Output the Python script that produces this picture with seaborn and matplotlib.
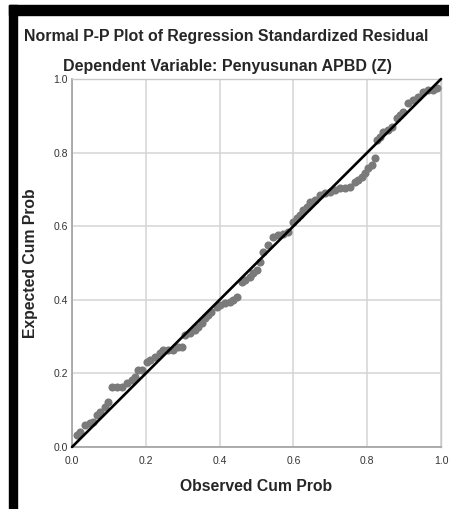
import numpy as np
import pandas as pd
import matplotlib
matplotlib.use("Agg")
import matplotlib.pyplot as plt
from matplotlib.patches import Rectangle
import seaborn as sns

# observed / expected cumulative probabilities
observed = [
    0.013, 0.022, 0.035, 0.049, 0.058, 0.067, 0.076, 0.089, 0.098, 0.107,
    0.121, 0.135, 0.148, 0.162, 0.171, 0.180, 0.189, 0.202, 0.211, 0.225,
    0.238, 0.247, 0.261, 0.275, 0.288, 0.297, 0.306, 0.320, 0.333, 0.342,
    0.352, 0.360, 0.369, 0.378, 0.392, 0.401, 0.415, 0.428, 0.437, 0.446,
    0.460, 0.469, 0.482, 0.491, 0.500, 0.509, 0.518, 0.532, 0.546, 0.559,
    0.573, 0.586, 0.600, 0.609, 0.618, 0.627, 0.636, 0.645, 0.659, 0.672,
    0.686, 0.699, 0.713, 0.726, 0.740, 0.753, 0.767, 0.776, 0.785, 0.794,
    0.803, 0.812, 0.821, 0.826, 0.835, 0.844, 0.857, 0.866, 0.880, 0.889,
    0.898, 0.911, 0.925, 0.938, 0.952, 0.966, 0.979, 0.988,
]
expected = [
    0.033, 0.042, 0.060, 0.065, 0.069, 0.087, 0.096, 0.110, 0.123, 0.164,
    0.164, 0.164, 0.173, 0.182, 0.191, 0.209, 0.209, 0.232, 0.236, 0.245,
    0.255, 0.264, 0.264, 0.264, 0.273, 0.273, 0.304, 0.309, 0.318, 0.327,
    0.336, 0.350, 0.359, 0.368, 0.381, 0.386, 0.390, 0.395, 0.400, 0.408,
    0.449, 0.454, 0.463, 0.472, 0.481, 0.504, 0.531, 0.550, 0.571, 0.576,
    0.580, 0.585, 0.612, 0.621, 0.630, 0.644, 0.653, 0.667, 0.671, 0.685,
    0.689, 0.694, 0.698, 0.703, 0.703, 0.707, 0.721, 0.726, 0.734, 0.744,
    0.757, 0.766, 0.785, 0.834, 0.843, 0.857, 0.861, 0.870, 0.893, 0.902,
    0.911, 0.934, 0.943, 0.952, 0.965, 0.970, 0.970, 0.975,
]
diag = [0.0, 1.0]
ticks = [0.0, 0.2, 0.4, 0.6, 0.8, 1.0]
tick_labels = ["0.0", "0.2", "0.4", "0.6", "0.8", "1.0"]

df = pd.DataFrame({"Observed Cum Prob": observed, "Expected Cum Prob": expected})

sns.set_style("whitegrid")
plt.rcParams["font.family"] = ["Liberation Sans", "DejaVu Sans"]

fig = plt.figure(figsize=(4.49, 5.09), dpi=100)
ax = fig.add_axes([0.1604, 0.1218, 0.8218, 0.723])

# black frame pieces at top and left of the screenshot
fig.patches.append(Rectangle((9 / 449, 1 - 15 / 509), 1.0, 10 / 509,
                             transform=fig.transFigure, color="black", zorder=0))
fig.patches.append(Rectangle((9 / 449, 0), 8 / 449, 1 - 5 / 509,
                             transform=fig.transFigure, color="black", zorder=0))

sns.scatterplot(data=df, x="Observed Cum Prob", y="Expected Cum Prob", ax=ax,
                color="#7a7a7a", s=34, linewidth=0, zorder=3, clip_on=False)
ax.plot(diag, diag, color="black", linewidth=1.9, zorder=4,
        solid_capstyle="round", clip_on=False)

ax.set_xlim(0, 1)
ax.set_ylim(0, 1)
ax.set_xticks(ticks)
ax.set_xticklabels(tick_labels)
ax.set_yticks(ticks)
ax.set_yticklabels(tick_labels)
ax.tick_params(axis="both", length=0, labelsize=7.5, colors="#333333")
ax.tick_params(axis="x", pad=6.5)
ax.tick_params(axis="y", pad=3)
ax.grid(True, color="#d4d4d4", linewidth=1.1)

for side in ["left", "bottom"]:
    ax.spines[side].set_color("#a0a0a0")
    ax.spines[side].set_linewidth(1.2)
for side in ["top", "right"]:
    ax.spines[side].set_color("#c8c8c8")
    ax.spines[side].set_linewidth(1.0)

ax.set_xlabel("Observed Cum Prob", fontsize=11.3, fontweight="bold", labelpad=9)
ax.set_ylabel("Expected Cum Prob", fontsize=11.3, fontweight="bold", labelpad=11)

fig.text(0.504, 1 - 36 / 509, "Normal P-P Plot of Regression Standardized Residual",
         ha="center", va="center", fontsize=11.4, fontweight="bold")
fig.text(0.506, 1 - 67 / 509, "Dependent Variable: Penyusunan APBD (Z)",
         ha="center", va="center", fontsize=11.5, fontweight="bold")

fig.savefig("out.png", dpi=100)
